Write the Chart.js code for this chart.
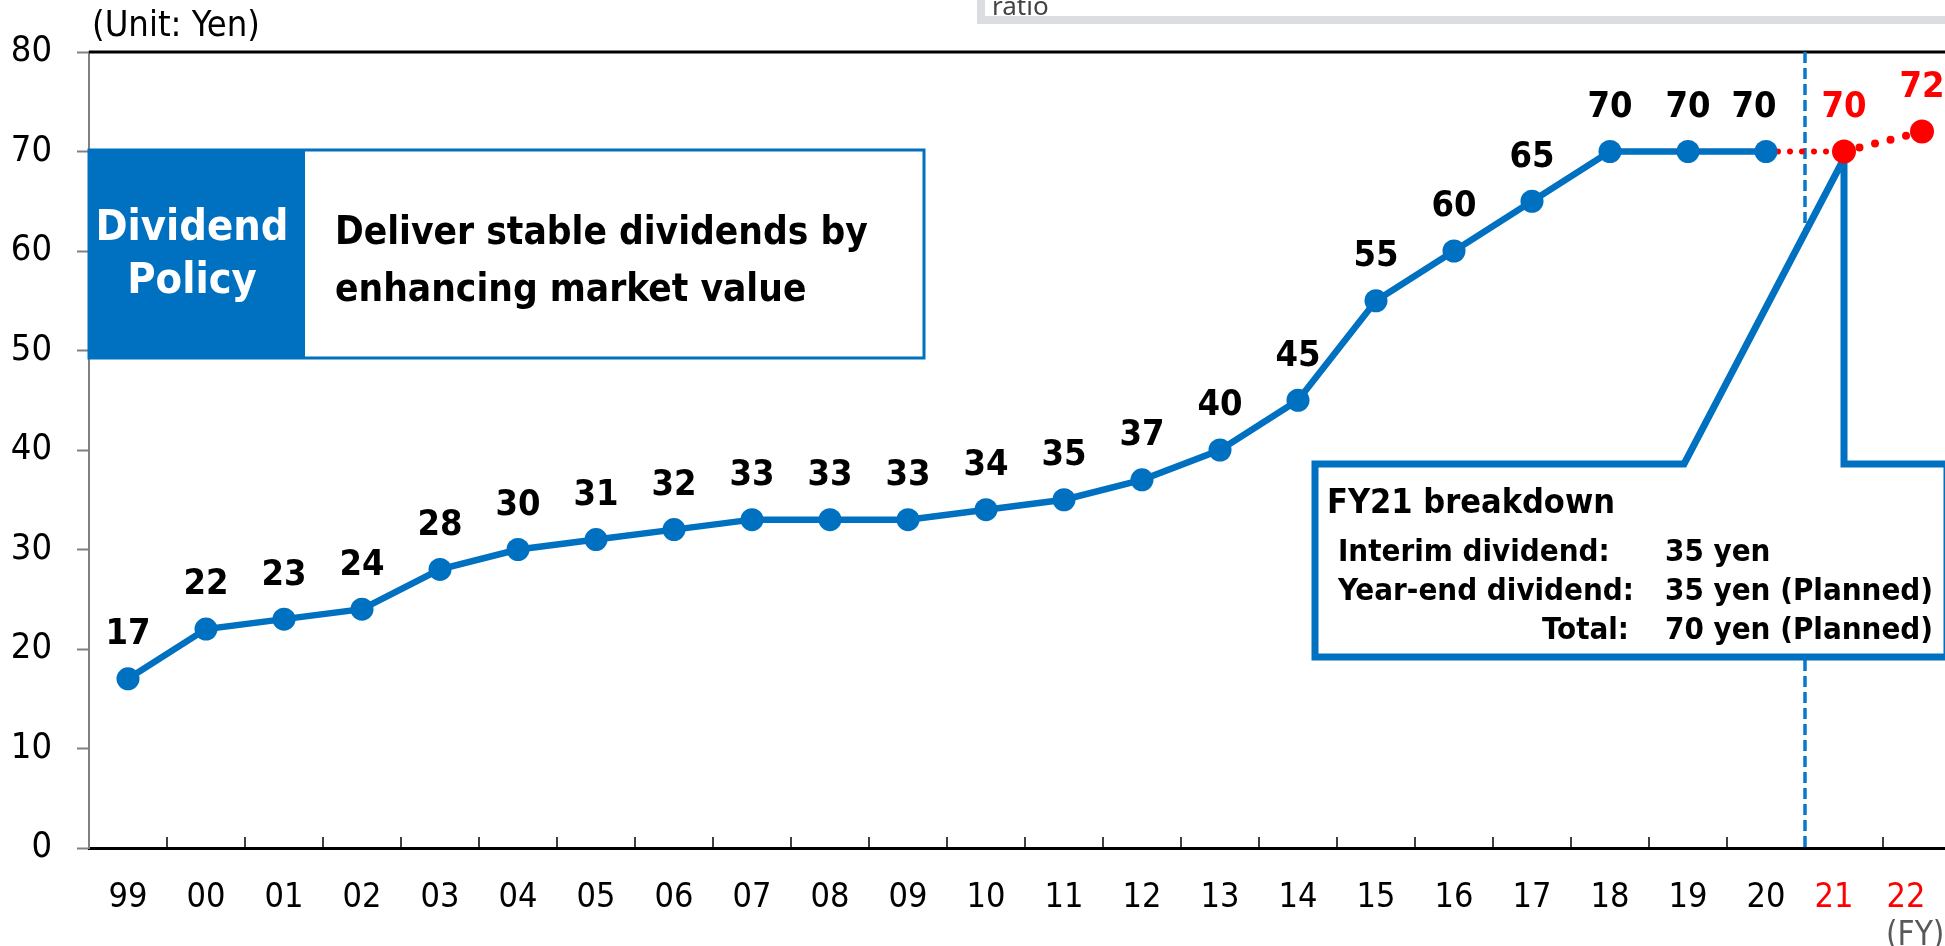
<!DOCTYPE html>
<html>
<head>
<meta charset="utf-8">
<title>Dividend per share</title>
<script src="https://cdn.jsdelivr.net/npm/chart.js"></script>
<style>
  html, body { margin: 0; padding: 0; background: #fff; overflow: hidden; }
  /* the plot runs past the right edge; clip it to the page */
  #wrap { position: relative; width: 1945px; height: 946px; overflow: hidden; }
  #wrap canvas { display: block; }
</style>
</head>
<body>
<div id="wrap"><canvas id="dividendChart" width="1961" height="946"></canvas></div>
<script>
// fiscal years and dividend per share (yen)
const fiscalYears = ['99', '00', '01', '02', '03', '04', '05', '06', '07', '08', '09', '10',
                     '11', '12', '13', '14', '15', '16', '17', '18', '19', '20', '21', '22'];
const dividends = [17, 22, 23, 24, 28, 30, 31, 32, 33, 33, 33, 34,
                   35, 37, 40, 45, 55, 60, 65, 70, 70, 70, null, null];
const forecast = [null, null, null, null, null, null, null, null, null, null, null, null,
                  null, null, null, null, null, null, null, null, null, 70, 70, 72];
const yTicks = [0, 10, 20, 30, 40, 50, 60, 70, 80];
const breakdownRows = [
  ['Interim dividend:', '35 yen'],
  ['Year-end dividend:', '35 yen (Planned)'],
  ['Total:', '70 yen (Planned)']
];

const BLUE = '#0070C0';
const RED = '#FF0000';
const FONT = "'DejaVu Sans Condensed', 'DejaVu Sans', sans-serif";
const firstForecast = fiscalYears.indexOf('21');

const overlay = {
  id: 'overlay',
  beforeDatasetsDraw(chart) {
    const { ctx, chartArea: a, scales: { x, y } } = chart;
    ctx.save();

    // top frame line at 80
    ctx.strokeStyle = '#000';
    ctx.lineWidth = 3;
    ctx.beginPath();
    ctx.moveTo(a.left, a.top);
    ctx.lineTo(a.right, a.top);
    ctx.stroke();

    // short tick marks between years, pointing up
    ctx.lineWidth = 1.5;
    for (let i = 1; i < fiscalYears.length; i++) {
      const bx = Math.round((x.getPixelForValue(i - 1) + x.getPixelForValue(i)) / 2);
      ctx.beginPath();
      ctx.moveTo(bx, a.bottom);
      ctx.lineTo(bx, a.bottom - 11);
      ctx.stroke();
    }

    // dashed divider before the forecast years
    const splitX = Math.round((x.getPixelForValue(firstForecast - 1) + x.getPixelForValue(firstForecast)) / 2);
    ctx.strokeStyle = '#0A78C8';
    ctx.lineWidth = 3.5;
    ctx.setLineDash([11, 5]);
    ctx.beginPath();
    ctx.moveTo(splitX, a.top);
    ctx.lineTo(splitX, a.bottom);
    ctx.stroke();
    ctx.setLineDash([]);

    // dividend policy box
    ctx.fillStyle = '#fff';
    ctx.fillRect(89, 150, 835, 208);
    ctx.strokeStyle = BLUE;
    ctx.lineWidth = 3;
    ctx.strokeRect(89, 150, 835, 208);
    ctx.fillStyle = BLUE;
    ctx.fillRect(89, 150, 216, 208);

    ctx.textBaseline = 'middle';
    ctx.fillStyle = '#fff';
    ctx.textAlign = 'center';
    ctx.font = 'bold 43px ' + FONT;
    ctx.fillText('Dividend', 192, 229);
    ctx.fillText('Policy', 192, 282);

    ctx.fillStyle = '#000';
    ctx.textAlign = 'left';
    ctx.font = 'bold 38.5px ' + FONT;
    ctx.fillText('Deliver stable dividends by', 335, 234);
    ctx.fillText('enhancing market value', 335, 291);

    // FY21 breakdown callout, pointing at the FY21 mark
    const px = x.getPixelForValue(firstForecast);
    const py = y.getPixelForValue(forecast[firstForecast]) + 7;
    const top = 464, bottom = 657, left = 1315, right = 1947;
    ctx.beginPath();
    ctx.moveTo(left, top);
    ctx.lineTo(px - 160, top);
    ctx.lineTo(px, py);
    ctx.lineTo(px, top);
    ctx.lineTo(right, top);
    ctx.lineTo(right, bottom);
    ctx.lineTo(left, bottom);
    ctx.closePath();
    ctx.fillStyle = '#fff';
    ctx.fill();
    ctx.strokeStyle = BLUE;
    ctx.lineWidth = 7;
    ctx.lineJoin = 'miter';
    ctx.stroke();

    ctx.fillStyle = '#000';
    ctx.font = 'bold 34px ' + FONT;
    ctx.fillText('FY21 breakdown', 1327, 504);
    ctx.font = 'bold 31px ' + FONT;
    breakdownRows.forEach(([label, value], i) => {
      const ry = 553 + i * 39;
      if (label === 'Total:') {
        ctx.textAlign = 'right';
        ctx.fillText(label, 1629, ry);
      } else {
        ctx.textAlign = 'left';
        ctx.fillText(label, 1338, ry);
      }
      ctx.textAlign = 'left';
      ctx.fillText(value, 1665, ry);
    });

    ctx.restore();
  },
  afterDatasetsDraw(chart) {
    const { ctx, scales: { x, y } } = chart;
    ctx.save();
    ctx.font = 'bold 36px ' + FONT;
    ctx.textAlign = 'center';
    ctx.textBaseline = 'middle';
    dividends.forEach((v, i) => {
      if (v === null) return;
      const nudge = i === firstForecast - 1 ? -12 : 0;
      ctx.fillStyle = '#000';
      ctx.fillText(String(v), x.getPixelForValue(i) + nudge, y.getPixelForValue(v) - 44);
    });
    forecast.forEach((v, i) => {
      if (v === null || i < firstForecast) return;
      ctx.fillStyle = RED;
      ctx.fillText(String(v), x.getPixelForValue(i), y.getPixelForValue(v) - 44);
    });
    ctx.restore();
  },
  afterDraw(chart) {
    const { ctx, chartArea: a, scales: { x } } = chart;
    ctx.save();

    // forecast year labels, pulled slightly left so "22" stays on the page
    ctx.fillStyle = RED;
    ctx.font = '34px ' + FONT;
    ctx.textAlign = 'center';
    ctx.textBaseline = 'middle';
    for (let i = firstForecast; i < fiscalYears.length; i++) {
      const shift = i === fiscalYears.length - 1 ? 16 : 10;
      ctx.fillText(fiscalYears[i], x.getPixelForValue(i) - shift, a.bottom + 50);
    }

    ctx.fillStyle = '#000';
    ctx.font = '36px ' + FONT;
    ctx.textAlign = 'left';
    ctx.fillText('(Unit: Yen)', 92, 27);

    ctx.fillStyle = '#595959';
    ctx.font = '33px ' + FONT;
    ctx.fillText('(FY)', 1886, 936);

    // edge of the neighbouring panel above
    ctx.fillStyle = '#DCDDE1';
    ctx.fillRect(977, 0, 990, 24);
    ctx.fillStyle = '#fff';
    ctx.fillRect(985, 0, 980, 16);
    ctx.fillStyle = '#444';
    ctx.font = "26px 'Noto Sans', sans-serif";
    ctx.textBaseline = 'alphabetic';
    ctx.fillText('ratio', 992, 15);
    ctx.restore();
  }
};

new Chart(document.getElementById('dividendChart'), {
  type: 'line',
  data: {
    labels: fiscalYears,
    datasets: [
      {
        label: 'Dividend',
        data: dividends,
        borderColor: BLUE,
        backgroundColor: BLUE,
        borderWidth: 6.5,
        pointRadius: 11.5,
        pointBorderWidth: 0,
        pointBackgroundColor: BLUE,
        tension: 0,
        order: 1
      },
      {
        label: 'Forecast',
        data: forecast,
        borderColor: RED,
        backgroundColor: RED,
        borderWidth: 6,
        borderCapStyle: 'round',
        borderDash: [0, 12],
        segment: {
          borderWidth: c => c.p0DataIndex >= firstForecast ? 8 : 6,
          borderDash: c => c.p0DataIndex >= firstForecast ? [0, 16] : [0, 12]
        },
        pointRadius: c => c.dataIndex >= firstForecast ? 12 : 0,
        pointBorderWidth: 0,
        pointBackgroundColor: RED,
        tension: 0,
        order: 2
      }
    ]
  },
  options: {
    responsive: false,
    animation: false,
    layout: {
      autoPadding: false,
      padding: { top: 52, left: 0, right: 0, bottom: 0 }
    },
    plugins: {
      legend: { display: false },
      tooltip: { enabled: false }
    },
    scales: {
      x: {
        type: 'category',
        offset: true,
        // invisible tick marks make the gap under the axis
        grid: {
          drawOnChartArea: false,
          drawTicks: true,
          tickLength: 30,
          tickColor: 'rgba(0,0,0,0)',
          offset: true
        },
        border: { display: true, color: '#000', width: 3 },
        ticks: {
          autoSkip: false,
          maxRotation: 0,
          padding: 0,
          // forecast years are drawn by the overlay plugin
          color: c => c.index >= firstForecast ? 'rgba(0,0,0,0)' : '#000',
          font: { family: FONT, size: 34 }
        },
        afterFit: s => { s.height = 98; }
      },
      y: {
        min: 0,
        max: 80,
        afterBuildTicks: s => { s.ticks = yTicks.map(v => ({ value: v })); },
        grid: {
          drawOnChartArea: false,
          drawTicks: true,
          tickLength: 12,
          tickColor: '#808080',
          tickWidth: 2
        },
        border: { display: true, color: '#808080', width: 2 },
        ticks: {
          padding: 25,
          color: '#000',
          font: { family: FONT, size: 36 }
        },
        afterFit: s => { s.width = 89; }
      }
    }
  },
  plugins: [overlay]
});
</script>
</body>
</html>
